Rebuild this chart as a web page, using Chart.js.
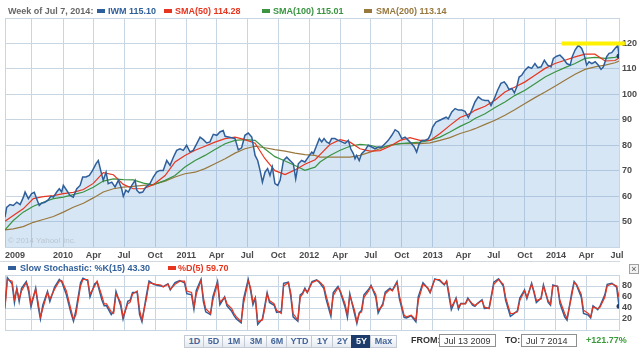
<!DOCTYPE html>
<html>
<head>
<meta charset="utf-8">
<script src="https://cdn.jsdelivr.net/npm/chart.js@4.4.1/dist/chart.umd.min.js"></script>
<style>
  body { margin: 0; background: #fff; }
  #wrap { position: relative; width: 640px; height: 351px; overflow: hidden; font-family: "Liberation Sans", Arial, sans-serif; }
  canvas { position: absolute; left: 0; }
  .t { position: absolute; font-size: 9px; font-weight: bold; line-height: 11px; white-space: nowrap; }
  .sq { position: absolute; width: 8px; height: 4px; }
  .btn { position: absolute; top: 335px; height: 11px; border: 1px solid #c3cad4; margin-left: -1px;
         background: linear-gradient(#ffffff, #e4e9f1); color: #44669a; font-size: 9px; font-weight: bold;
         line-height: 11px; text-align: center; }
  .btn.on { background: #1d3c6b; color: #fff; border-color: #1d3c6b; }
  .box { position: absolute; top: 334px; height: 13px; border: 1px solid #8f8f8f; background: #fff;
         font-size: 9px; line-height: 12px; color: #333; padding-left: 4px; box-sizing: border-box; }
</style>
</head>
<body>
<div id="wrap">
  <canvas id="main" width="640" height="262" style="top:0"></canvas>
  <canvas id="stoch" width="640" height="80" style="top:262px"></canvas>

  <div class="t" style="left:8px;top:6px;color:#666">Week of Jul 7, 2014:</div>
  <div class="sq" style="left:97px;top:9px;background:#2f5f9a"></div>
  <div class="t" style="left:108px;top:6px;color:#2f5f9a">IWM 115.10</div>
  <div class="sq" style="left:164px;top:9px;background:#e8351f"></div>
  <div class="t" style="left:175px;top:6px;color:#e8351f">SMA(50) 114.28</div>
  <div class="sq" style="left:262px;top:9px;background:#3a9442"></div>
  <div class="t" style="left:273px;top:6px;color:#3a9442">SMA(100) 115.01</div>
  <div class="sq" style="left:364px;top:9px;background:#98783e"></div>
  <div class="t" style="left:376px;top:6px;color:#98783e">SMA(200) 113.14</div>

  <div style="position:absolute;left:8px;top:236px;font-size:8px;color:#bac6d2;white-space:nowrap">&copy; 2014 Yahoo! Inc.</div>
  <div style="position:absolute;left:0;top:261px;width:620px;height:1px;background:#d3d9e0"></div>

  <div class="sq" style="left:8px;top:266px;background:#2f5f9a"></div>
  <div class="t" style="left:20px;top:263px;color:#2f5f9a">Slow Stochastic: %K(15) 43.30</div>
  <div class="sq" style="left:168px;top:266px;background:#e8351f"></div>
  <div class="t" style="left:178px;top:263px;color:#e8351f">%D(5) 59.70</div>
  <div style="position:absolute;left:629px;top:264px;width:8px;height:8px;border:1px solid #a0a0a0;background:#f2f2f2;font-size:9px;line-height:8px;text-align:center;color:#555">&times;</div>

  <div class="btn" style="left:185px;width:19px">1D</div>
  <div class="btn" style="left:204px;width:19px">5D</div>
  <div class="btn" style="left:223px;width:22px">1M</div>
  <div class="btn" style="left:245px;width:22px">3M</div>
  <div class="btn" style="left:267px;width:20px">6M</div>
  <div class="btn" style="left:287px;width:25px">YTD</div>
  <div class="btn" style="left:312px;width:21px">1Y</div>
  <div class="btn" style="left:333px;width:19px">2Y</div>
  <div class="btn on" style="left:352px;width:19px">5Y</div>
  <div class="btn" style="left:371px;width:25px">Max</div>

  <div class="t" style="left:411px;top:335px;color:#333">FROM:</div>
  <div class="box" style="left:439px;width:57px">Jul 13 2009</div>
  <div class="t" style="left:505px;top:335px;color:#333">TO:</div>
  <div class="box" style="left:521px;width:56px">Jul 7 2014</div>
  <div class="t" style="left:586px;top:335px;color:#3a9a3a">+121.77%</div>
</div>

<script>
// =====================
// Data (x = weeks since Jul 13 2009)
// =====================
const price = [
  [0, 51.7], [0.7, 55.6], [2.1, 56.7], [3.5, 56.3], [5, 57.6], [6.4, 56.7], [7.8, 59.6], [8.5, 61.6], [9.9, 59], [11.3, 61],
  [12.4, 61.5], [13.4, 59], [14.5, 56.3], [15.5, 57.2], [16.9, 57.6], [18.3, 58.5], [19.4, 59.9], [20.5, 59.6], [21.9, 61.6], [23, 62.9],
  [24, 61.6], [24.7, 64.2], [26.1, 62.3], [27.5, 60.3], [28.9, 59.6], [30.4, 62.9], [31.8, 64.2], [32.9, 67.5], [34.3, 67.5], [35.7, 68.1],
  [37.1, 70.1], [38.5, 72.7], [39.5, 74], [40.7, 69.4], [41.6, 66.2], [42.8, 69.4], [43.7, 64.9], [45.2, 65.5], [46.6, 63.6], [48, 66.2],
  [49.4, 62.9], [50.1, 59.9], [51.2, 62.3], [52.2, 61.6], [53.7, 64.2], [55.1, 66.2], [55.8, 62.3], [56.9, 61.3], [58.3, 61.6], [59.7, 63.6],
  [61.4, 64.9], [62.8, 67.5], [64.2, 69.4], [65.6, 70.1], [67, 70.1], [68.5, 74], [69.9, 72.1], [71.3, 75.3], [72.7, 78], [74.1, 78.6],
  [75.5, 78], [76.9, 80], [78.3, 77.4], [79.7, 78], [81.2, 80.6], [82.6, 83.2], [84, 82.2], [85.4, 80.9], [86.8, 81.3], [88.2, 84.3],
  [89.7, 83.9], [91, 85.2], [92.4, 85.8], [93.2, 83.5], [94.6, 83.2], [96, 82.9], [97.4, 82.6], [98.8, 78.2], [100.2, 79], [101.6, 83.9],
  [103, 84.8], [104.5, 83.2], [105.9, 76], [107, 74], [108, 70.1], [109, 65.5], [110.1, 69.4], [111.2, 70.8], [112.2, 68.1], [113.2, 71.4],
  [114.3, 64.9], [115.5, 64.2], [116.5, 66.2], [117.9, 74], [119.3, 75.3], [120.7, 74], [122.1, 72.7], [123.1, 66.8], [124.2, 72.7], [125.6, 74],
  [127, 73.4], [128.4, 75.3], [129.9, 77.3], [130.6, 76.7], [132, 80], [133.1, 82.6], [134.1, 81.3], [135.1, 82.6], [136.2, 81.3], [137.3, 80.7],
  [138.3, 82.6], [139.7, 82.6], [141.1, 81.9], [142.6, 81.3], [144, 80.7], [145.4, 81.9], [146.4, 78.6], [147.5, 76.7], [148.2, 74.7], [148.9, 76],
  [150, 74], [151, 76.7], [152.4, 77.9], [153.8, 80], [155.3, 79.3], [156.7, 78.6], [158.1, 79.3], [159.5, 79.3], [160.9, 80.6], [162.3, 81.9],
  [163.8, 83.9], [165.2, 86.1], [166.6, 85.2], [168, 82.6], [169.4, 83.2], [170.8, 81.9], [172.2, 80.6], [173.3, 79.3], [174.3, 77.3], [175.4, 80.6],
  [176.5, 81.9], [177.9, 81.9], [179.3, 82.6], [180.3, 84.5], [181.1, 87.1], [182.5, 89.1], [183.9, 89.7], [185.4, 90.4], [186.8, 91], [187.7, 90.4],
  [189.2, 93.1], [190.6, 94.4], [192, 93.8], [193.4, 93.8], [194.8, 93.3], [196.2, 90.9], [197.6, 93.7], [199, 97], [200.4, 99], [201.9, 97.9],
  [203.3, 97.6], [204.7, 97.6], [205.8, 95.6], [207.2, 98.3], [208.6, 101.6], [210, 104.3], [211.4, 104.9], [212.5, 103.6], [213.4, 101.9], [214.6, 102.3],
  [215.7, 100.6], [216.7, 102.9], [217.7, 106.8], [218.8, 107.5], [220.2, 109.5], [221.6, 110.8], [223, 110.2], [224.4, 112.1], [225.6, 110.5], [227, 110.8],
  [228.4, 113.4], [229.8, 111.5], [231.2, 110.8], [232.2, 114.1], [233.6, 115], [235, 115.4], [236.4, 114.1], [237.9, 112.1], [239.3, 111.5], [240.2, 114.8],
  [241.4, 117.4], [242.8, 119.3], [244.2, 118], [245.3, 115.4], [246.3, 111.5], [247.3, 112.8], [248.5, 112.1], [249.9, 112.8], [251.2, 111.5], [252.4, 109.8],
  [253.4, 110.8], [254.8, 114.8], [255.8, 116.1], [256.9, 116.4], [258.3, 118], [259.5, 119.3], [260, 115.1]
];

const smaWeeks = [
  0, 3.5, 7.7, 12, 16.2, 20.5, 24.7, 28.9, 33.2, 37.4,
  41.6, 45.9, 50.1, 54.3, 58.6, 62.8, 67.8, 72, 76.2, 80.5,
  84.7, 88.9, 93.2, 97.4, 101.6, 105.9, 110.1, 114.3, 118.6, 122.8,
  127, 131.3, 133.4, 137.6, 141.9, 146.1, 150.3, 154.6, 158.8, 163,
  167.3, 171.5, 175.7, 180, 184.2, 188.4, 192.7, 196.9, 199, 203.3,
  207.5, 211.7, 216, 220.2, 224.4, 228.7, 232.9, 237.1, 241.4, 245.6,
  249.8, 254.1, 258.3, 260
];
const sma50 = [
  50.1, 52.4, 55, 59, 59.8, 60.2, 61, 61.5, 62.6, 65,
  69.2, 68.4, 64.6, 62.9, 62.9, 64.5, 68.1, 73.4, 76, 78,
  79.6, 81.2, 82.6, 83.2, 82.2, 80.8, 74.7, 70, 68.5, 70.3,
  72.5, 74.3, 76.3, 80.3, 82.2, 81.2, 78.6, 77.7, 77.9, 79.6,
  81.9, 83, 81.9, 81.9, 84.6, 87.8, 90.9, 92.4, 93.7, 95.3,
  97.7, 100.9, 102.9, 104.9, 107.5, 110.2, 112.1, 113.4, 114.7, 115.8,
  115.8, 113.1, 113.3, 114.3
];
const sma100 = [
  46.7, 50.4, 53.7, 56, 57.6, 59, 59.6, 60.6, 61.6, 63.5,
  65.9, 66.8, 66.5, 66.4, 65.1, 64.4, 66.2, 68.1, 71.4, 74,
  76, 78.3, 80.6, 81.9, 82.2, 81.9, 78.5, 75.5, 73.8, 72,
  70.1, 71.4, 73.4, 76, 78, 79.6, 80.3, 80, 79, 80,
  80.6, 80.9, 81.2, 81.9, 83.2, 85.2, 87.4, 89.2, 90.5, 92.4,
  94.8, 97, 99.6, 101.6, 104.2, 106.8, 108.8, 110.5, 112.1, 114.1,
  114.5, 114.1, 114.5, 115
];
const sma200 = [
  46.7, 47.1, 48, 49.7, 50.8, 52, 53.7, 55.6, 57.2, 59.3,
  61.6, 62.9, 63.5, 63.8, 64.2, 64.6, 65.9, 67.5, 68.8, 69.4,
  70.8, 72.7, 74.7, 76.9, 78.6, 79.6, 79, 78.3, 77.7, 76.9,
  76.3, 76, 75.3, 75.3, 75.3, 75.3, 76, 77.3, 78.6, 80,
  80.6, 80.6, 80.6, 80.9, 81.9, 83, 84.6, 85.8, 86.5, 88.2,
  89.8, 91.8, 94, 96.4, 98.7, 100.9, 103.2, 105.5, 107.9, 109.8,
  110.8, 111.5, 112.4, 113.1
];

// stochastic: [week, %K, %D]
const stochRows = [
  [0, 45, 38.8], [1, 95, 91.8], [3, 84, 88.8], [4, 50, 56.5], [5, 76, 74], [6, 52, 56.5], [7, 76, 71], [9, 88, 85.9], [10, 70, 77], [11, 42, 47.6],
  [13, 76, 74], [14, 44, 50.6], [15, 20, 24], [16, 45, 38.8], [18, 70, 68.2], [19, 52, 56.5], [21, 78, 74], [23, 92, 88.8], [24, 88, 90], [26, 64, 71],
  [28, 30, 35.9], [29, 16, 19.4], [30, 35, 27], [32, 86, 80], [33, 94, 91.8], [35, 90, 91.8], [36, 60, 65.3], [38, 84, 80], [39, 87, 88.8], [41, 55, 62.4],
  [42, 44, 47.6], [43, 44, 47.6], [45, 28, 32.9], [46, 34, 30], [47, 70, 65.3], [49, 44, 50.6], [50, 20, 24], [52, 52, 47.6], [53, 54, 50.6], [54, 68, 65.3],
  [56, 68, 71], [57, 28, 35.9], [58, 15, 18.2], [60, 66, 59.4], [61, 89, 85.9], [63, 83, 84], [64, 82, 83], [66, 80, 81.8], [67, 79, 78], [69, 84, 83],
  [70, 73, 74], [72, 86, 83], [74, 90, 88.8], [76, 86, 88.8], [77, 66, 71], [79, 64, 68.2], [80, 38, 41.8], [81, 72, 65.3], [83, 92, 90], [84, 52, 59.4],
  [85, 33, 38.8], [87, 28, 30], [88, 60, 53.5], [90, 88, 85.9], [91, 46, 50.6], [93, 60, 59.4], [94, 44, 47.6], [96, 34, 38.8], [97, 26, 30], [98, 20, 24],
  [100, 13, 15.3], [101, 56, 47.6], [103, 92, 88.8], [104, 72, 77], [105, 46, 50.6], [106, 58, 59.4], [107, 10, 15.3], [109, 20, 18.2], [110, 44, 38.8], [111, 68, 65.3],
  [112, 50, 53.5], [114, 45, 47.6], [115, 32, 35.9], [117, 34, 30], [118, 85, 80], [120, 87, 85.9], [121, 62, 68.2], [122, 24, 30], [124, 16, 18.2], [125, 64, 59.4],
  [126, 67, 65.3], [127, 76, 74], [128, 68, 68.2], [130, 88, 85.9], [132, 91, 90], [133, 87, 88.8], [135, 76, 80], [136, 56, 62.4], [138, 25, 30], [139, 68, 62.4],
  [141, 79, 77], [142, 69, 71], [144, 42, 47.6], [145, 23, 27], [146, 66, 62.4], [148, 30, 35.9], [149, 12, 15.3], [150, 31, 30], [151, 36, 32.9], [152, 64, 59.4],
  [154, 74, 71], [155, 81, 80], [157, 60, 65.3], [158, 31, 35.9], [160, 48, 44.7], [161, 69, 65.3], [163, 76, 74], [164, 72, 71], [166, 88, 85.9], [167, 57, 62.4],
  [169, 23, 27], [170, 22, 24], [172, 26, 27], [174, 15, 18.2], [175, 60, 53.5], [177, 86, 83], [179, 76, 77], [180, 68, 68.2], [182, 93, 91.8], [184, 90, 91.8],
  [186, 82, 83], [187, 89, 88.8], [188, 62, 68.2], [189, 37, 41.8], [191, 58, 56.5], [192, 38, 41.8], [193, 48, 47.6], [195, 48, 47.6], [196, 58, 56.5], [198, 45, 47.6],
  [199, 43, 44.7], [200, 48, 47.6], [202, 55, 53.5], [203, 39, 41.8], [205, 40, 38.8], [207, 87, 83], [209, 93, 91.8], [211, 80, 83], [212, 54, 59.4], [214, 25, 30],
  [215, 28, 30], [217, 35, 32.9], [218, 58, 53.5], [220, 73, 71], [221, 57, 59.4], [223, 85, 83], [224, 68, 71], [225, 50, 53.5], [227, 58, 56.5], [228, 82, 80],
  [230, 50, 53.5], [231, 45, 47.6], [232, 82, 80], [234, 79, 80], [235, 48, 53.5], [237, 24, 30], [238, 18, 21.2], [240, 68, 62.4], [241, 88, 85.9], [242, 82, 83],
  [244, 60, 65.3], [245, 30, 35.9], [247, 27, 30], [248, 22, 24], [249, 44, 41.8], [251, 37, 38.8], [252, 44, 41.8], [254, 64, 59.4], [255, 83, 80], [257, 85, 84],
  [259, 78, 80], [260, 43.3, 59.7]
];

// highlighted level (drawn line on the chart)
const markLevel = 120;
const markWeeks = [235.7, 262.5];

// quarter tick labels
const quarterDates = [
  '2009-10-01', '2010-01-01', '2010-04-01', '2010-07-01', '2010-10-01',
  '2011-01-01', '2011-04-01', '2011-07-01', '2011-10-01',
  '2012-01-01', '2012-04-01', '2012-07-01', '2012-10-01',
  '2013-01-01', '2013-04-01', '2013-07-01', '2013-10-01',
  '2014-01-01', '2014-04-01', '2014-07-01'
];
const quarterLabels = [
  '', '2010', 'Apr', 'Jul', 'Oct',
  '2011', 'Apr', 'Jul', 'Oct',
  '2012', 'Apr', 'Jul', 'Oct',
  '2013', 'Apr', 'Jul', 'Oct',
  '2014', 'Apr', 'Jul'
];
const startLabel = '2009';

// =====================
// Styles
// =====================
const GRID = '#c8d5e2';
const BLUE = '#2f5f9a';
const RED = '#e8351f';
const GREEN = '#3a9442';
const BROWN = '#98783e';
const FONT = { family: '"Liberation Sans", Arial, sans-serif', size: 9, weight: 'bold' };
const TICK_COLOR = '#4a4a4a';

const startDate = Date.UTC(2009, 6, 13);
const toWeek = d => (Date.parse(d + 'T00:00:00Z') - startDate) / (7 * 864e5);

const timeTicks = scale => {
  const ticks = [{ value: 0, txt: '' }, { value: 4.2, txt: startLabel, noLine: true }];
  quarterDates.forEach((d, i) => {
    ticks.push({ value: toWeek(d), txt: quarterLabels[i], noLine: i === quarterDates.length - 1 });
  });
  scale.ticks = ticks;
};

const xAxis = (showLabels, height) => ({
  type: 'linear',
  min: 0,
  max: 260,
  afterBuildTicks: timeTicks,
  afterFit: s => { s.height = height; },
  ticks: {
    display: showLabels,
    autoSkip: false,
    maxRotation: 0,
    padding: 3,
    font: FONT,
    color: TICK_COLOR,
    callback: (v, i, t) => t[i].txt
  },
  grid: {
    color: c => (c.tick && c.tick.noLine) ? 'rgba(0,0,0,0)' : GRID,
    drawTicks: false
  },
  border: { display: true, color: GRID }
});

const yAxis = (min, max, step, labelled) => ({
  position: 'right',
  min,
  max,
  afterFit: s => { s.width = 21; },
  ticks: {
    stepSize: step,
    autoSkip: false,
    padding: 3,
    font: FONT,
    color: TICK_COLOR,
    callback: labelled
  },
  grid: { color: GRID, drawTicks: false },
  border: { display: true, color: GRID }
});

const lastDot = n => c => (c.dataIndex === n - 1 ? 2.5 : 0);
const pts = rows => rows.map(([x, y]) => ({ x, y }));
const smaPts = vals => vals.map((y, i) => ({ x: smaWeeks[i], y }));

// =====================
// Main price chart
// =====================
new Chart(document.getElementById('main').getContext('2d'), {
  type: 'line',
  data: {
    datasets: [
      {
        label: 'level',
        data: markWeeks.map(x => ({ x, y: markLevel })),
        borderColor: '#fff200',
        borderWidth: 4,
        pointRadius: 0,
        clip: false,
        order: 0
      },
      {
        label: 'IWM',
        data: pts(price),
        borderColor: BLUE,
        borderWidth: 1.5,
        backgroundColor: 'rgba(110,165,215,0.28)',
        fill: 'start',
        pointRadius: lastDot(price.length),
        pointBackgroundColor: '#1d3f70',
        pointBorderWidth: 0,
        order: 1
      },
      { label: 'SMA(50)', data: smaPts(sma50), borderColor: RED, borderWidth: 1.2, pointRadius: 0, order: 2 },
      { label: 'SMA(100)', data: smaPts(sma100), borderColor: GREEN, borderWidth: 1.2, pointRadius: 0, order: 3 },
      { label: 'SMA(200)', data: smaPts(sma200), borderColor: BROWN, borderWidth: 1.2, pointRadius: 0, order: 4 }
    ]
  },
  options: {
    responsive: false,
    animation: false,
    layout: { padding: { left: 5, top: 18, right: 0, bottom: 0 } },
    plugins: {
      legend: { display: false },
      tooltip: { enabled: false },
      filler: { drawTime: 'beforeDatasetsDraw' }
    },
    scales: {
      x: xAxis(true, 15),
      y: yAxis(40, 130, 10, v => (v >= 50 && v <= 120 ? v : ''))
    }
  }
});

// =====================
// Slow stochastic panel
// =====================
new Chart(document.getElementById('stoch').getContext('2d'), {
  type: 'line',
  data: {
    datasets: [
      {
        label: '%K(15)',
        data: stochRows.map(r => ({ x: r[0], y: r[1] })),
        borderColor: BLUE,
        borderWidth: 1.5,
        pointRadius: lastDot(stochRows.length),
        pointBackgroundColor: '#1d3f70',
        pointBorderWidth: 0,
        order: 1
      },
      {
        label: '%D(5)',
        data: stochRows.map(r => ({ x: r[0], y: r[2] })),
        borderColor: RED,
        borderWidth: 1.2,
        pointRadius: 0,
        order: 0
      }
    ]
  },
  options: {
    responsive: false,
    animation: false,
    layout: { padding: { left: 5, top: 13, right: 0, bottom: 0 } },
    plugins: { legend: { display: false }, tooltip: { enabled: false } },
    scales: {
      x: xAxis(false, 12),
      y: yAxis(0, 100, 20, v => (v > 0 && v < 100 ? v : ''))
    }
  }
});
</script>
</body>
</html>
